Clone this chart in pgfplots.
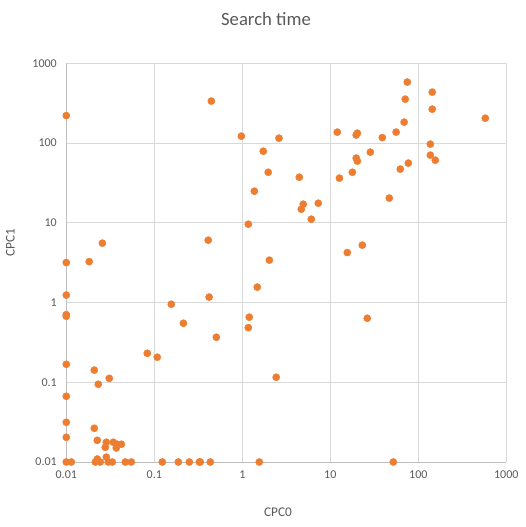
\documentclass[border=0pt]{standalone}
\usepackage{fontspec}
\setmainfont{Carlito}
\usepackage{pgfplots}
\pgfplotsset{compat=1.18}
\definecolor{xlorange}{HTML}{ED7D31}
\definecolor{xlgrid}{HTML}{D9D9D9}
\definecolor{xlaxis}{HTML}{BFBFBF}
\definecolor{xltext}{HTML}{595959}

\begin{document}
\begin{tikzpicture}[x=1pt,y=1pt]
\path (0,0) rectangle (525,527);
\begin{axis}[
  at={(66.3pt,65pt)}, anchor=south west,
  scale only axis, width=440pt, height=398.7pt,
  xmode=log, ymode=log,
  xmin=0.01, xmax=1000, ymin=0.01, ymax=1000,
  xtick={0.01,0.1,1,10,100,1000},
  xticklabels={0.01,0.1,1,10,100,1000},
  ytick={0.01,0.1,1,10,100,1000},
  yticklabels={0.01,0.1,1,10,100,1000},
  minor tick length=0pt, major tick length=0pt,
  axis lines=left, axis line style={-, xlaxis, line width=0.9pt},
  grid=major, grid style={xlgrid, line width=0.9pt},
  tick label style={font=\fontsize{12}{14}\selectfont, text=xltext},
  xticklabel style={yshift=-5pt},
  yticklabel style={xshift=-6pt},
  clip=false,
]
  % CPC0 vs CPC1 search times
  \addplot[only marks, mark=*, mark size=3.6pt,
           color=xlorange, mark options={draw=xlorange, fill=xlorange}]
  coordinates {
    (0.01,221)(0.445,336)(0.975,122)(2.61,115)(1.73,79)(1.97,43)
    (1.37,24.9)(1.17,9.6)(0.41,6.05)(0.0257,5.55)(0.01,3.17)(0.0182,3.26)
    (2.03,3.4)(1.48,1.56)(0.01,1.24)(0.156,0.953)(0.42,1.17)(0.01,0.705)
    (0.01,0.673)(1.20,0.655)(1.17,0.484)(0.214,0.55)(0.507,0.367)
    (0.01,0.168)(0.0832,0.231)(0.108,0.206)(0.0208,0.142)(0.0308,0.112)
    (0.0231,0.0944)(2.43,0.1156)(0.01,0.0667)(0.01,0.0315)(0.01,0.0204)
    (0.0208,0.0265)(0.0225,0.0187)(0.0285,0.0177)(0.0277,0.0153)
    (0.0342,0.0177)(0.037,0.015)(0.038,0.0167)(0.0422,0.0167)
    (0.0285,0.0115)(0.0225,0.0109)
    (0.01,0.01)(0.0114,0.01)(0.0214,0.01)(0.0243,0.01)(0.030,0.01)
    (0.0333,0.01)(0.0468,0.01)(0.0548,0.01)(0.1233,0.01)(0.1875,0.01)
    (0.25,0.01)(0.325,0.01)(0.333,0.01)(0.433,0.01)(1.56,0.01)
    (15.6,4.23)(26.3,0.635)(52,0.01)
    (75,581)(144,435)(71,355)(144,266)(577,205)(69,183)(12.0,137)
    (56,137)(20.3,133)(19.7,126)(39,117)(137,96.9)(28.5,76.9)
    (19.7,64.7)(20.3,59.3)(137,70.5)(156,61)(4.44,37.3)(12.7,36.3)
    (17.8,43)(77,56)(62.4,47.1)(4.93,17.1)(4.68,14.8)(7.3,17.6)
    (6.08,11.1)(46.8,20.4)(23.1,5.24)
  };
\end{axis}
\node[text=xltext, font=\fontsize{18.7}{22}\selectfont] at (266,507.7) {Search time};
\node[text=xltext, font=\fontsize{13.3}{16}\selectfont] at (278,15) {CPC0};
\node[text=xltext, font=\fontsize{13.3}{16}\selectfont, rotate=90] at (10.3,284) {CPC1};
\end{tikzpicture}
\end{document}
